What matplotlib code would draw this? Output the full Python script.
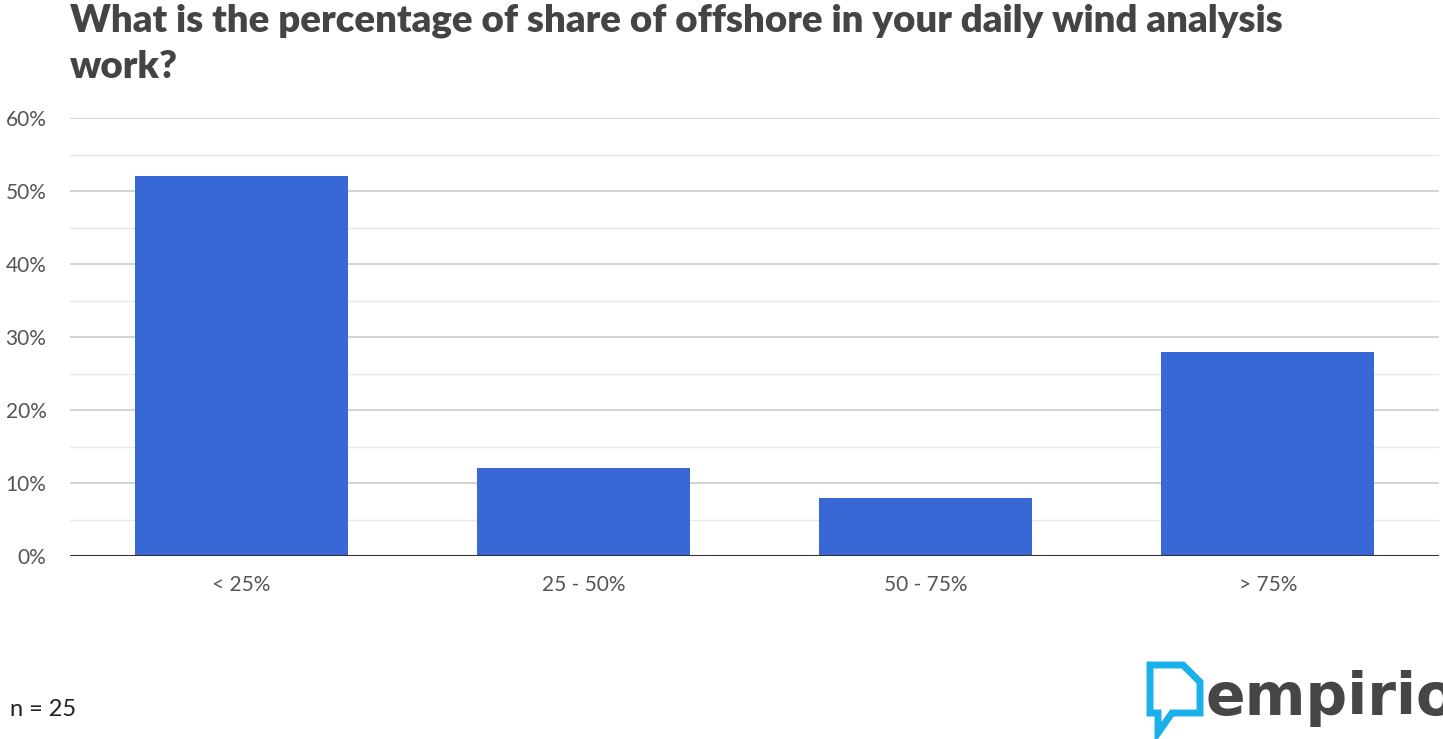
import matplotlib.pyplot as plt
from matplotlib.patches import Polygon
from matplotlib.ticker import MultipleLocator, FuncFormatter

# datos
categorias = ["< 25%", "25 - 50%", "50 - 75%", "> 75%"]
valores = [52, 12, 8, 28]
titulo = "What is the percentage of share of offshore in your daily wind analysis\nwork?"
n_texto = "n = 25"

W, H = 1443, 739
fig = plt.figure(figsize=(W / 100, H / 100), dpi=100)
ax = fig.add_axes([70 / W, 1 - 556 / H, 1369 / W, 438 / H])

x = range(len(categorias))
ax.bar(x, valores, width=0.622, color="#3867d6", zorder=3)
ax.set_xlim(-0.5, 3.5)
ax.set_ylim(0, 60)
ax.set_xticks(list(x))
ax.set_xticklabels(categorias)

ax.yaxis.set_major_locator(MultipleLocator(10))
ax.yaxis.set_minor_locator(MultipleLocator(5))
ax.yaxis.set_major_formatter(FuncFormatter(lambda v, p: f"{int(v)}%"))
ax.grid(axis="y", which="major", color="#cccccc", lw=1.2, zorder=0)
ax.grid(axis="y", which="minor", color="#e8e8e8", lw=1.0, zorder=0)
ax.axhline(0, color="#333333", lw=1.5, zorder=4)

for s in ax.spines.values():
    s.set_visible(False)
ax.tick_params(axis="both", which="both", length=0, labelsize=15, colors="#555555")
ax.tick_params(axis="y", pad=17)
ax.tick_params(axis="x", pad=14)
for t in ax.get_yticklabels() + ax.get_xticklabels():
    t.set_family("Lato")

fig.text(70 / W, 1 - 4 / H, titulo, fontsize=27.6, fontweight="heavy", color="#444444",
         family="Lato", va="top", ha="left", linespacing=1.4)
fig.text(10 / W, 1 - 710 / H, n_texto, fontsize=17, color="#222222", va="center",
         family="Lato")

# logo
azul = "#1ab0ea"
icono = [(1150, 665), (1183, 665), (1200, 682), (1200, 713), (1172, 713),
         (1158, 733), (1158, 713), (1150, 713)]
icono = [(px / W, 1 - py / H) for px, py in icono]
fig.patches.append(Polygon(icono, closed=True, fill=False, edgecolor=azul, lw=5,
                           joinstyle="miter", transform=fig.transFigure))
fig.text(1206 / W, 1 - 715 / H, "empirio", fontsize=42, fontweight="bold",
         color="#464646", family="DejaVu Sans", va="baseline", ha="left")

fig.savefig("out.png", dpi=100)
